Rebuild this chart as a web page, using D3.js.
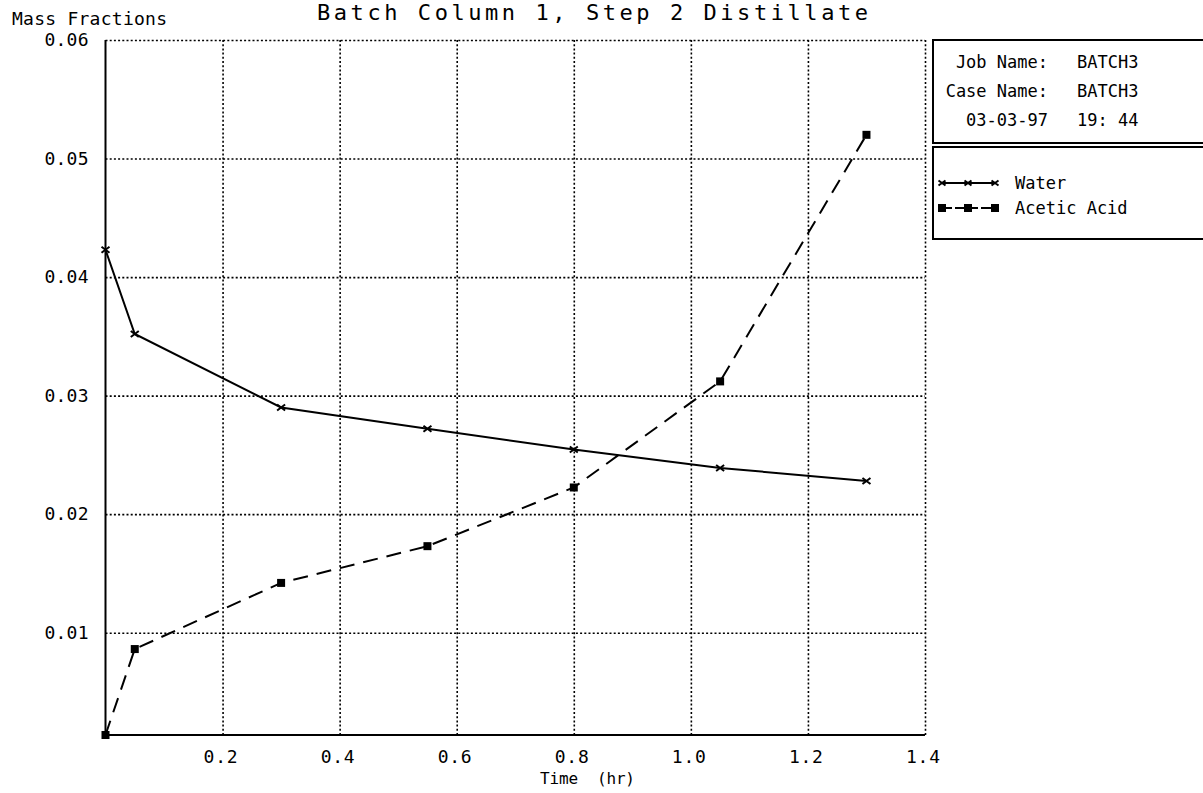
<!DOCTYPE html>
<html>
<head>
<meta charset="utf-8">
<script src="https://cdn.jsdelivr.net/npm/d3@7"></script>
<style>
  body { margin: 0; background: #fff; }
  text { font-family: "DejaVu Sans Mono", monospace; fill: #000; }
</style>
</head>
<body>
<div id="chart"></div>
<script>
// data
var times = [0, 0.05, 0.3, 0.55, 0.8, 1.05, 1.3];
var water = [0.0423, 0.0352, 0.0290, 0.0272, 0.02546, 0.0239, 0.0228];
var acetic = [0.00137, 0.00862, 0.0142, 0.0173, 0.02225, 0.0312, 0.0520];
var xTicks = [0.2, 0.4, 0.6, 0.8, 1.0, 1.2, 1.4];
var yTicks = [0.01, 0.02, 0.03, 0.04, 0.05, 0.06];
var infoRows = [["Job Name:", "BATCH3"], ["Case Name:", "BATCH3"], ["03-03-97", "19: 44"]];
var seriesNames = ["Water", "Acetic Acid"];

var svgWidth = 1203, svgHeight = 793;
var margin = { top: 40, left: 105.5 };
var width = 925 - margin.left;
var height = 735 - margin.top;

var svg = d3.select("#chart").append("svg")
    .attr("width", svgWidth)
    .attr("height", svgHeight);

var chartGroup = svg.append("g")
    .attr("transform", `translate(${margin.left}, ${margin.top})`);

var x = d3.scaleLinear().domain([0, 1.4]).range([0, width]);
var y = d3.scaleLinear().domain([acetic[0], 0.06]).range([height, 0]);

// dotted grid
chartGroup.append("g")
    .attr("transform", `translate(0, ${height})`)
    .call(d3.axisBottom(x).tickValues(xTicks).tickSize(-height).tickFormat(""))
    .call(g => g.select(".domain").remove())
    .selectAll("line")
    .attr("stroke", "#000").attr("stroke-width", 1.6).attr("stroke-dasharray", "2,2.2");

chartGroup.append("g")
    .call(d3.axisLeft(y).tickValues(yTicks).tickSize(-width).tickFormat(""))
    .call(g => g.select(".domain").remove())
    .selectAll("line")
    .attr("stroke", "#000").attr("stroke-width", 1.6).attr("stroke-dasharray", "2,2.2");

// solid left and bottom axes
chartGroup.append("line")
    .attr("x1", 0).attr("x2", 0).attr("y1", 0).attr("y2", height)
    .attr("stroke", "#000").attr("stroke-width", 2);
chartGroup.append("line")
    .attr("x1", 0).attr("x2", width).attr("y1", height).attr("y2", height)
    .attr("stroke", "#000").attr("stroke-width", 2);

// tick labels
chartGroup.selectAll(".xlab")
    .data(xTicks)
    .enter().append("text")
    .attr("x", d => x(d) - 19)
    .attr("y", height + 28)
    .attr("font-size", 18)
    .attr("textLength", 34).attr("lengthAdjust", "spacing")
    .text(d => d.toFixed(1));

chartGroup.selectAll(".ylab")
    .data(yTicks)
    .enter().append("text")
    .attr("x", -61)
    .attr("y", d => y(d) + 6)
    .attr("font-size", 18)
    .attr("textLength", 44).attr("lengthAdjust", "spacing")
    .text(d => d.toFixed(2));

// titles
svg.append("text")
    .attr("x", 317).attr("y", 20)
    .attr("font-size", 22)
    .attr("textLength", 551).attr("lengthAdjust", "spacing")
    .text("Batch Column 1, Step 2 Distillate");

svg.append("text")
    .attr("x", 12).attr("y", 25)
    .attr("font-size", 18)
    .attr("textLength", 155).attr("lengthAdjust", "spacing")
    .text("Mass Fractions");

svg.append("text")
    .attr("x", 540).attr("y", 784)
    .attr("font-size", 16)
    .attr("textLength", 95).attr("lengthAdjust", "spacing")
    .attr("xml:space", "preserve")
    .text("Time  (hr)");

// series
var waterData = times.map((t, i) => ({ t: t, v: water[i] }));
var aceticData = times.map((t, i) => ({ t: t, v: acetic[i] }));

var line = d3.line().x(d => x(d.t)).y(d => y(d.v));

chartGroup.append("path")
    .datum(aceticData)
    .attr("d", line)
    .attr("fill", "none")
    .attr("stroke", "#000")
    .attr("stroke-width", 2)
    .attr("stroke-dasharray", "15,9");

chartGroup.append("path")
    .datum(waterData)
    .attr("d", line)
    .attr("fill", "none")
    .attr("stroke", "#000")
    .attr("stroke-width", 2);

var xMark = "M-4,-3L4,3M-4,3L4,-3";

chartGroup.selectAll(".wmark")
    .data(waterData)
    .enter().append("path")
    .attr("transform", d => `translate(${x(d.t)}, ${y(d.v)})`)
    .attr("d", xMark)
    .attr("stroke", "#000")
    .attr("stroke-width", 2);

chartGroup.selectAll(".amark")
    .data(aceticData)
    .enter().append("rect")
    .attr("x", d => x(d.t) - 4)
    .attr("y", d => y(d.v) - 4)
    .attr("width", 8).attr("height", 8)
    .attr("fill", "#000");

// info box
svg.append("rect")
    .attr("x", 933).attr("y", 40).attr("width", 300).attr("height", 103)
    .attr("fill", "none").attr("stroke", "#000").attr("stroke-width", 2);

var info = svg.selectAll(".info")
    .data(infoRows)
    .enter().append("g")
    .attr("transform", (d, i) => `translate(0, ${68 + i * 29})`);

info.append("text")
    .attr("x", 1048).attr("text-anchor", "end")
    .attr("font-size", 17)
    .text(d => d[0]);
info.append("text")
    .attr("x", 1077)
    .attr("font-size", 17)
    .attr("xml:space", "preserve")
    .text(d => d[1]);

// legend box
svg.append("rect")
    .attr("x", 933).attr("y", 147).attr("width", 300).attr("height", 92)
    .attr("fill", "none").attr("stroke", "#000").attr("stroke-width", 2);

var legend = svg.selectAll(".legend")
    .data(seriesNames)
    .enter().append("g")
    .attr("transform", (d, i) => `translate(0, ${183 + i * 25})`);

legend.append("line")
    .attr("x1", 942).attr("x2", 995)
    .attr("stroke", "#000").attr("stroke-width", 2)
    .attr("stroke-dasharray", (d, i) => i === 0 ? null : "10,3");

legend.each(function(d, i) {
    var g = d3.select(this);
    [942, 968, 995].forEach(function(px) {
        if (i === 0) {
            g.append("path").attr("transform", `translate(${px}, 0)`)
                .attr("d", "M-3.5,-2.5L3.5,2.5M-3.5,2.5L3.5,-2.5")
                .attr("stroke", "#000").attr("stroke-width", 2);
        } else {
            g.append("rect").attr("x", px - 4).attr("y", -4)
                .attr("width", 8).attr("height", 8).attr("fill", "#000");
        }
    });
});

legend.append("text")
    .attr("x", 1015).attr("y", 6)
    .attr("font-size", 17)
    .text(d => d);
</script>
</body>
</html>
